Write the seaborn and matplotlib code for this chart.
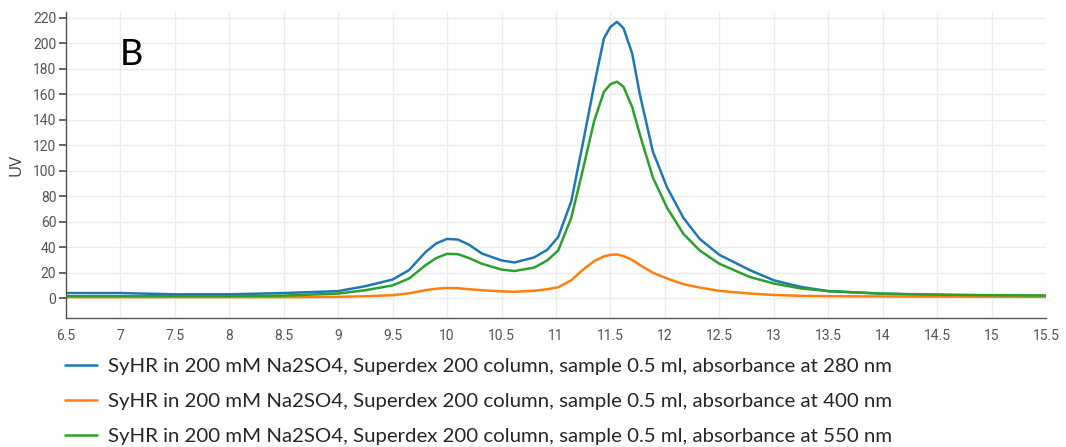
import numpy as np
import pandas as pd
import matplotlib
matplotlib.use("Agg")
import matplotlib.pyplot as plt
import seaborn as sns
from matplotlib.lines import Line2D

volume = [6.5, 7.0, 7.5, 8.0, 8.5, 9.0, 9.25, 9.5, 9.65, 9.8, 9.9, 10.0, 10.1, 10.2,
          10.32, 10.5, 10.62, 10.8, 10.92, 11.02, 11.14, 11.25, 11.35, 11.44, 11.5,
          11.56, 11.62, 11.7, 11.77, 11.89, 12.02, 12.17, 12.32, 12.5, 12.78, 13.0,
          13.25, 13.5, 14.0, 14.5, 15.0, 15.5]

uv_280 = [4.0, 4.0, 3.0, 3.0, 4.0, 5.5, 9.4, 14.6, 22, 36, 43, 46.5, 46, 42,
          35, 29.6, 28, 32, 38, 48, 76, 123, 167, 204, 213,
          217, 212, 192, 160, 115, 87, 63, 46.5, 34, 22, 14,
          8.8, 5.5, 3.5, 2.5, 2.0, 1.8]

uv_400 = [0.8, 0.8, 0.8, 0.8, 0.8, 1.0, 1.5, 2.3, 3.8, 6.2, 7.4, 8.0, 7.8, 7.0,
          6.2, 5.3, 5.0, 5.8, 7.0, 8.5, 14, 22.5, 29, 32.8, 34,
          34.3, 33, 30, 26, 20, 15.4, 11, 8.3, 5.7, 3.6, 2.5,
          1.8, 1.5, 1.3, 1.2, 1.1, 1.0]

uv_550 = [1.5, 1.5, 1.5, 1.5, 2.0, 3.6, 6.2, 10, 15.4, 25.7, 31.5, 34.8, 34.5, 31.5,
          27, 22.4, 21.3, 24, 29.6, 37.4, 63, 102, 139, 162, 168,
          170, 166, 150, 128.5, 94.6, 71, 50.5, 37.4, 27, 16.6, 11.5,
          7.6, 5.5, 3.5, 2.8, 2.3, 2.0]

labels = [
    "SyHR in 200 mM Na2SO4, Superdex 200 column, sample 0.5 ml, absorbance at 280 nm",
    "SyHR in 200 mM Na2SO4, Superdex 200 column, sample 0.5 ml, absorbance at 400 nm",
    "SyHR in 200 mM Na2SO4, Superdex 200 column, sample 0.5 ml, absorbance at 550 nm",
]
colors = ["#1f77b4", "#ff7f0e", "#2ca02c"]
x_ticks = [6.5, 7, 7.5, 8, 8.5, 9, 9.5, 10, 10.5, 11, 11.5, 12, 12.5, 13, 13.5, 14, 14.5, 15, 15.5]
x_tick_labels = ["6.5", "7", "7.5", "8", "8.5", "9", "9.5", "10", "10.5", "11", "11.5",
                 "12", "12.5", "13", "13.5", "14", "14.5", "15", "15.5"]
y_ticks = list(range(0, 221, 20))

df = pd.concat([
    pd.DataFrame({"volume": volume, "uv": vals, "series": lab})
    for vals, lab in zip([uv_280, uv_400, uv_550], labels)
], ignore_index=True)

sns.set_theme(style="white")
plt.rcParams["font.family"] = ["Roboto", "DejaVu Sans"]

fig = plt.figure(figsize=(10.66, 4.47), dpi=100)
ax = fig.add_axes([66 / 1066, 1 - 318 / 447, 980 / 1066, 306 / 447])

sns.lineplot(data=df, x="volume", y="uv", hue="series", hue_order=labels,
             palette=colors, linewidth=1.8, ax=ax, legend=False, sort=False)

ax.set_xlim(6.5, 15.5)
ax.set_ylim(-15.6, 224.7)
ax.set_xticks(x_ticks)
ax.set_xticklabels(x_tick_labels)
ax.set_yticks(y_ticks)
ax.grid(True, color="#ebebeb", linewidth=1.0)
ax.set_axisbelow(True)
for s in ["top", "right"]:
    ax.spines[s].set_visible(False)
for s in ["left", "bottom"]:
    ax.spines[s].set_color("#555555")
    ax.spines[s].set_linewidth(1.0)
ax.tick_params(axis="x", direction="in", length=5, color="#555555", labelsize=10,
               labelcolor="#555555", pad=8)
ax.tick_params(axis="y", direction="out", length=5, color="#555555", labelsize=10,
               labelcolor="#555555", left=True, pad=2)
ax.set_xlabel("")
ax.set_ylabel("UV", fontsize=12, color="#444444", family=["Open Sans", "DejaVu Sans"], labelpad=6)

ax.text(0.055, 0.86, "B", transform=ax.transAxes, fontsize=26, color="black",
        family=["Lato", "DejaVu Sans"], va="center", ha="left")

handles = [Line2D([0], [0], color=c, linewidth=1.8) for c in colors]
fig.legend(handles, labels, loc="upper left", bbox_to_anchor=(57 / 1066, 1 - 350 / 447),
           frameon=False, handlelength=1.55, labelspacing=0.85,
           handletextpad=0.55, borderaxespad=0,
           prop={"family": ["Lato", "DejaVu Sans"], "size": 14.7})

fig.savefig("out.png", dpi=100)
